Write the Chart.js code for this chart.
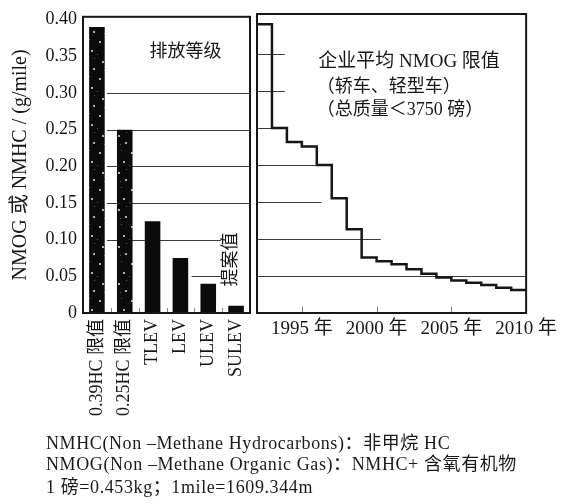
<!DOCTYPE html>
<html>
<head>
<meta charset="utf-8">
<script src="https://cdn.jsdelivr.net/npm/chart.js@4.4.0/dist/chart.umd.min.js"></script>
<style>
  html, body { margin: 0; padding: 0; background: #fff; }
  #wrap { position: relative; width: 562px; height: 504px; overflow: hidden; background: #fff; }
  #levelChart { position: absolute; left: 0; top: 0; }
  #nmogChart { position: absolute; left: 250px; top: 0; }
  .note { position: absolute; left: 46px; font: 18px "Liberation Serif", "Noto Sans CJK SC", serif; color: #1a1a1a; white-space: nowrap; line-height: 20px; letter-spacing: 0.6px; }
</style>
</head>
<body>
<div id="wrap">
  <canvas id="levelChart" width="266" height="440"></canvas>
  <canvas id="nmogChart" width="312" height="360"></canvas>
  <div class="note" style="top:433px">NMHC(Non –Methane Hydrocarbons)：非甲烷 HC</div>
  <div class="note" style="top:454px">NMOG(Non –Methane Organic Gas)：NMHC+ 含氧有机物</div>
  <div class="note" style="top:477px">1 磅=0.453kg；1mile=1609.344m</div>
</div>
<script>
// Emission levels (left panel)
const levelNames = ["0.39HC 限值", "0.25HC 限值", "TLEV", "LEV", "ULEV", "SULEV"];
const levelValues = [0.39, 0.25, 0.125, 0.075, 0.04, 0.01];

// Fleet average NMOG limit (right panel), value holds from that year to the next
const stepYears = [1992, 1993, 1994, 1995, 1996, 1997, 1998, 1999, 2000, 2001,
                   2002, 2003, 2004, 2005, 2006, 2007, 2008, 2009, 2010];
const fleetAvgNmog = [0.39, 0.25, 0.231, 0.225, 0.20, 0.155, 0.113, 0.075, 0.070, 0.066,
                      0.059, 0.053, 0.048, 0.044, 0.041, 0.038, 0.034, 0.031, 0.031];

// Axis ticks
const yTicks = [0, 0.05, 0.10, 0.15, 0.20, 0.25, 0.30, 0.35, 0.40];
const yearTicks = [1995, 2000, 2005, 2010];
const yearLabels = ["1995 年", "2000 年", "2005 年", "2010 年"];

const INK = "#161616";
const FONT = '"Liberation Serif", "Noto Sans CJK SC", serif';
const Y_MAX = 0.404;
const AREA_BOTTOM = 313;

// grid lines that only run part way across a panel (fractions of the plot width)
const partialGrid = {
  id: "partialGrid",
  beforeDatasetsDraw(chart, args, opts) {
    const { ctx, chartArea: a, scales: { y } } = chart;
    ctx.save();
    ctx.strokeStyle = opts.color;
    ctx.lineWidth = 1;
    opts.lines.forEach(l => {
      const py = Math.round(y.getPixelForValue(l.value)) + 0.5;
      ctx.beginPath();
      ctx.moveTo(a.left + l.from * a.width, py);
      ctx.lineTo(a.left + l.to * a.width, py);
      ctx.stroke();
    });
    ctx.restore();
  }
};

// frame + short inward ticks on the bottom edge
const panelFrame = {
  id: "panelFrame",
  afterDatasetsDraw(chart, args, opts) {
    const { ctx, chartArea: a, scales: { x } } = chart;
    ctx.save();
    ctx.strokeStyle = opts.tickColor;
    ctx.lineWidth = 1;
    opts.ticksAt.forEach(v => {
      const px = Math.round(x.getPixelForValue(v)) + 0.5;
      ctx.beginPath();
      ctx.moveTo(px, a.bottom);
      ctx.lineTo(px, a.bottom - opts.tickLen);
      ctx.stroke();
    });
    ctx.strokeStyle = INK;
    ctx.lineWidth = 2;
    ctx.strokeRect(a.left, a.top, a.width, a.height);
    ctx.restore();
  }
};

// text placed in data coordinates
const panelText = {
  id: "panelText",
  afterDraw(chart, args, opts) {
    const { ctx, scales: { x, y } } = chart;
    ctx.save();
    ctx.fillStyle = INK;
    opts.items.forEach(t => {
      const px = x.getPixelForValue(t.x);
      const py = y.getPixelForValue(t.y);
      ctx.font = t.size + "px " + FONT;
      ctx.textAlign = t.align || "left";
      ctx.textBaseline = "middle";
      ctx.translate(px, py);
      if (t.rotate) ctx.rotate(t.rotate);
      ctx.fillText(t.text, 0, 0);
      ctx.setTransform(1, 0, 0, 1, 0, 0);
    });
    ctx.restore();
  }
};

// speckled black fill used for the first two bars
function speckle(ctx) {
  const c = document.createElement("canvas");
  c.width = 16; c.height = 37;
  const g = c.getContext("2d");
  g.fillStyle = "#0b0b0b";
  g.fillRect(0, 0, 16, 37);
  g.fillStyle = "#b0b0b0";
  [[3, 4], [11, 13], [6, 24], [13, 31]].forEach(p => g.fillRect(p[0], p[1], 2, 2));
  g.fillStyle = "#5a5a5a";
  [[9, 2], [1, 17], [8, 33], [14, 21]].forEach(p => g.fillRect(p[0], p[1], 1, 1));
  return ctx.createPattern(c, "repeat");
}

const levelCtx = document.getElementById("levelChart").getContext("2d");
const dots = speckle(levelCtx);

new Chart(levelCtx, {
  type: "bar",
  data: {
    labels: levelNames,
    datasets: [{
      data: levelValues,
      backgroundColor: levelValues.map((v, i) => i < 2 ? dots : "#0b0b0b"),
      borderWidth: 0,
      barPercentage: 0.56,
      categoryPercentage: 1
    }]
  },
  options: {
    responsive: false,
    animation: false,
    layout: { padding: { top: 14, right: 16, left: 0, bottom: 0 } },
    plugins: {
      legend: { display: false },
      tooltip: { enabled: false },
      partialGrid: {
        color: "#3a3a3a",
        lines: [
          { value: 0.30, from: 0.144, to: 1 },
          { value: 0.25, from: 0.144, to: 1 },
          { value: 0.20, from: 0.144, to: 1 },
          { value: 0.15, from: 0.144, to: 1 },
          { value: 0.10, from: 0.144, to: 0.826 },
          { value: 0.05, from: 0.65, to: 0.83 }
        ]
      },
      panelFrame: { ticksAt: [0.5, 1.5, 2.5, 3.5, 4.5], tickLen: 5, tickColor: "#888" },
      panelText: {
        items: [
          { text: "排放等级", x: 3.18, y: 0.355, size: 18, align: "center" },
          { text: "提案值", x: 4.82, y: 0.073, size: 18, align: "center", rotate: -Math.PI / 2 }
        ]
      }
    },
    scales: {
      x: {
        offset: true,
        grid: { display: false, drawTicks: false },
        border: { display: false },
        afterFit: s => { s.height = 440 - AREA_BOTTOM; },
        ticks: {
          autoSkip: false, minRotation: 90, maxRotation: 90, padding: 6,
          color: INK, font: { family: FONT, size: 18 }
        }
      },
      y: {
        min: 0, max: Y_MAX,
        afterBuildTicks: s => { s.ticks = yTicks.map(v => ({ value: v })); },
        afterFit: s => { s.width = 83; },
        grid: { display: false, drawTicks: false },
        border: { display: false },
        ticks: {
          padding: 6, color: INK, font: { family: FONT, size: 18 },
          callback: v => v === 0 ? "0" : v.toFixed(2)
        },
        title: {
          display: true, text: "NMOG 或 NMHC / (g/mile)", color: INK,
          font: { family: FONT, size: 20 }, padding: { top: 9, bottom: 0 }
        }
      }
    }
  },
  plugins: [partialGrid, panelFrame, panelText]
});

new Chart(document.getElementById("nmogChart"), {
  type: "line",
  data: {
    datasets: [{
      data: stepYears.map((yr, i) => ({ x: yr, y: fleetAvgNmog[i] })),
      stepped: "before",
      borderColor: INK,
      borderWidth: 2.5,
      pointRadius: 0,
      fill: false
    }]
  },
  options: {
    responsive: false,
    animation: false,
    layout: { padding: { top: 14, right: 34, left: 7, bottom: 0 } },
    plugins: {
      legend: { display: false },
      tooltip: { enabled: false },
      partialGrid: {
        color: "#3a3a3a",
        lines: [
          { value: 0.35, from: 0, to: 0.103 },
          { value: 0.30, from: 0, to: 0.103 },
          { value: 0.25, from: 0, to: 0.103 },
          { value: 0.20, from: 0, to: 0.277 },
          { value: 0.15, from: 0, to: 0.24 },
          { value: 0.10, from: 0, to: 0.46 },
          { value: 0.05, from: 0, to: 1 }
        ]
      },
      panelFrame: { ticksAt: [1995, 2000, 2005], tickLen: 6, tickColor: "#777" },
      panelText: {
        items: [
          { text: "企业平均 NMOG 限值", x: 1996.1, y: 0.339, size: 19 },
          { text: "（轿车、轻型车）", x: 1996.0, y: 0.305, size: 18 },
          { text: "（总质量＜3750 磅）", x: 1996.0, y: 0.274, size: 18 }
        ]
      }
    },
    scales: {
      x: {
        type: "linear", min: 1992, max: 2010,
        afterBuildTicks: s => { s.ticks = yearTicks.map(v => ({ value: v })); },
        afterFit: s => { s.height = 360 - AREA_BOTTOM; },
        grid: { display: false, drawTicks: false },
        border: { display: false },
        ticks: {
          autoSkip: false, maxRotation: 0, padding: 5, color: INK,
          font: { family: FONT, size: 19 },
          callback: v => yearLabels[yearTicks.indexOf(v)]
        }
      },
      y: { display: false, min: 0, max: Y_MAX }
    }
  },
  plugins: [partialGrid, panelFrame, panelText]
});
</script>
</body>
</html>
